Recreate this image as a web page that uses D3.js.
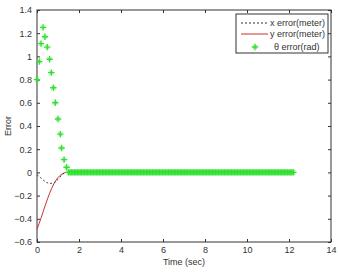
<!DOCTYPE html>
<html>
<head>
<meta charset="utf-8">
<script src="https://cdn.jsdelivr.net/npm/d3@7"></script>
<style>
  body { margin: 0; background: #fff; }
  text { font-family: "Liberation Sans", Arial, sans-serif; fill: #333; }
</style>
</head>
<body>
<div id="chart"></div>
<script>
// x error (meter), dashed black
const xErrT = [0, 0.2, 0.4, 0.6, 0.8, 1.0, 1.2, 1.4, 12];
const xErrV = [-0.02, -0.05, -0.08, -0.095, -0.09, -0.06, -0.02, 0, 0];

// y error (meter), solid red
const yErrT = [0, 0.2, 0.4, 0.6, 0.8, 1.0, 1.2, 1.4, 12];
const yErrV = [-0.49, -0.39, -0.28, -0.18, -0.10, -0.045, -0.012, 0, 0];

// theta error (rad), green stars: transient part
const thT = [0, 0.11, 0.19, 0.29, 0.38, 0.49, 0.6, 0.68, 0.78, 0.87, 1.0, 1.11, 1.17, 1.29, 1.41];
const thV = [0.8, 0.955, 1.11, 1.25, 1.17, 1.08, 0.975, 0.86, 0.73, 0.60, 0.46, 0.33, 0.21, 0.11, 0.044];
// flat tail sampled densely up to 12.2 s, all zero
const thTailT = d3.range(1.5, 12.25, 0.07);
const thTailV = thTailT.map(() => 0);

const xTicks = [0, 2, 4, 6, 8, 10, 12, 14];
const yTicks = [-0.6, -0.4, -0.2, 0, 0.2, 0.4, 0.6, 0.8, 1, 1.2, 1.4];
const legendLabels = ["x error(meter)", "y error(meter)", "θ error(rad)"];

const W = 338, H = 275;
const margin = { top: 10, right: 7, bottom: 33, left: 37 };
const w = W - margin.left - margin.right, h = H - margin.top - margin.bottom;

const svg = d3.select("#chart").append("svg")
  .attr("width", W).attr("height", H);
const g = svg.append("g").attr("transform", `translate(${margin.left},${margin.top})`);

const x = d3.scaleLinear().domain([0, 14]).range([0, w]);
const y = d3.scaleLinear().domain([-0.6, 1.4]).range([h, 0]);

// axes, MATLAB style: ticks pointing inward on all four sides
function styleAxis(sel) {
  sel.select(".domain").remove();
  sel.selectAll("line").attr("stroke", "#333");
  sel.selectAll("text").style("font-size", "9px").attr("fill", "#444")
    .style("font-family", "Liberation Sans, Arial, sans-serif");
}
g.append("g").attr("transform", `translate(0,${h})`)
  .call(d3.axisBottom(x).tickValues(xTicks).tickSizeInner(-3).tickSizeOuter(0).tickPadding(5).tickFormat(d3.format("d")))
  .call(styleAxis);
g.append("g")
  .call(d3.axisLeft(y).tickValues(yTicks).tickSizeInner(-3).tickSizeOuter(0).tickPadding(5).tickFormat(d => d === 0 ? "0" : d3.format("")(+d.toFixed(1))))
  .call(styleAxis);
g.append("g")
  .call(d3.axisTop(x).tickValues(xTicks).tickSizeInner(-3).tickSizeOuter(0).tickFormat(""))
  .call(styleAxis);
g.append("g").attr("transform", `translate(${w},0)`)
  .call(d3.axisRight(y).tickValues(yTicks).tickSizeInner(-3).tickSizeOuter(0).tickFormat(""))
  .call(styleAxis);

g.append("rect").attr("width", w).attr("height", h)
  .attr("fill", "none").attr("stroke", "#333").attr("stroke-width", 1);

// lines
const line = d3.line().x(d => x(d[0])).y(d => y(d[1])).curve(d3.curveMonotoneX);
g.append("path").datum(yErrT.map((t, i) => [t, yErrV[i]]))
  .attr("d", line).attr("fill", "none").attr("stroke", "#c83232").attr("stroke-width", 1);
g.append("path").datum(xErrT.map((t, i) => [t, xErrV[i]]))
  .attr("d", line).attr("fill", "none").attr("stroke", "#333").attr("stroke-width", 0.9)
  .attr("stroke-dasharray", "2,2");

// asterisk markers
const green = "#33e033";
function star(sel, r) {
  sel.append("path")
    .attr("d", `M${-r},0H${r}M0,${-r}V${r}`)
    .attr("stroke", green).attr("stroke-width", 1.4).attr("fill", "none");
  sel.append("path")
    .attr("d", `M${-r * 0.65},${-r * 0.65}L${r * 0.65},${r * 0.65}M${-r * 0.65},${r * 0.65}L${r * 0.65},${-r * 0.65}`)
    .attr("stroke", green).attr("stroke-width", 0.8).attr("stroke-opacity", 0.8).attr("fill", "none");
}
const thAll = thT.map((t, i) => [t, thV[i]]).concat(thTailT.map((t, i) => [t, thTailV[i]]));
g.append("g").selectAll("g").data(thAll).join("g")
  .attr("transform", d => `translate(${x(d[0])},${y(d[1])})`)
  .each(function () { star(d3.select(this), 3.2); });

// legend
const lg = svg.append("g").attr("transform", "translate(236,14)");
lg.append("rect").attr("width", 92).attr("height", 39)
  .attr("fill", "#fff").attr("stroke", "#333").attr("stroke-width", 1);
const rowsY = [9, 20, 33];
lg.append("line").attr("x1", 5).attr("x2", 32).attr("y1", rowsY[0]).attr("y2", rowsY[0])
  .attr("stroke", "#333").attr("stroke-dasharray", "2,2");
lg.append("line").attr("x1", 5).attr("x2", 32).attr("y1", rowsY[1]).attr("y2", rowsY[1])
  .attr("stroke", "#c83232");
star(lg.append("g").attr("transform", `translate(19,${rowsY[2]})`), 3.2);
lg.selectAll("text.lbl").data(legendLabels).join("text").attr("class", "lbl")
  .attr("x", (d, i) => i === 2 ? 38 : 34).attr("y", (d, i) => rowsY[i] + 3)
  .style("font-size", "9px").text(d => d);

// axis titles
svg.append("text").attr("x", margin.left + w / 2).attr("y", 265)
  .attr("text-anchor", "middle").style("font-size", "9px").text("Time (sec)");
svg.append("text").attr("transform", `translate(11,${margin.top + h / 2}) rotate(-90)`)
  .attr("text-anchor", "middle").style("font-size", "9px").text("Error");
</script>
</body>
</html>
